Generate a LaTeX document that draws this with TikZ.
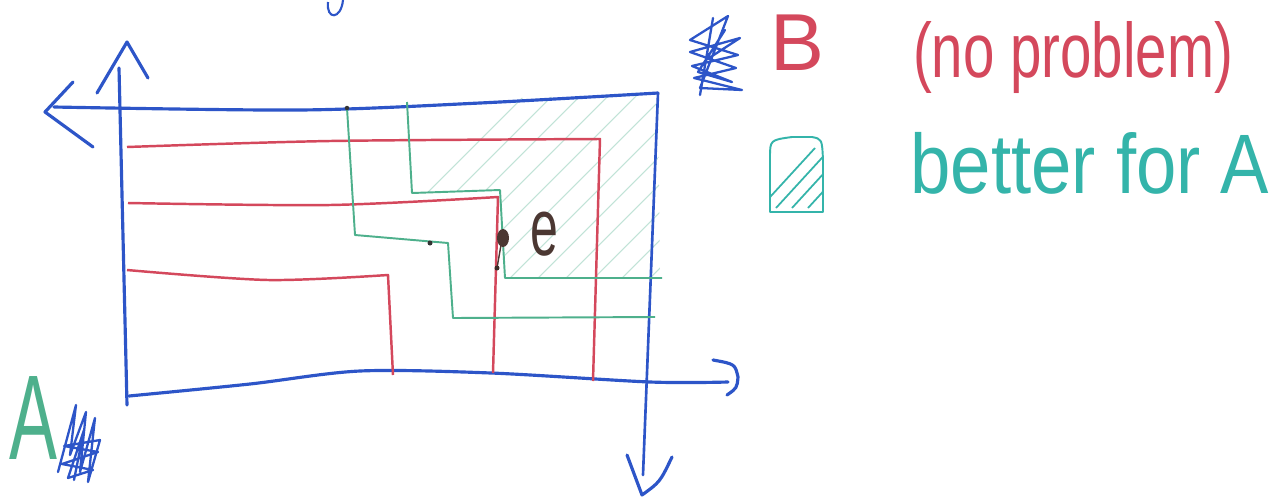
\documentclass[tikz,border=0pt]{standalone}
\usepackage{fontspec}
\setmainfont{Liberation Sans}
\usepackage{graphicx}
\usetikzlibrary{positioning}

\definecolor{penblue}{RGB}{45,85,200}
\definecolor{penred}{RGB}{212,72,92}
\definecolor{pengreen}{RGB}{78,176,140}
\definecolor{penteal}{RGB}{52,180,170}
\definecolor{penbrown}{RGB}{75,55,50}

\begin{document}
\begin{tikzpicture}[
    x=0.02cm, y=-0.02cm,
    axis/.style={penblue, line width=1.8pt, line cap=round, line join=round},
    curveB/.style={penred, line width=1.4pt, line join=round},
    curveA/.style={pengreen, line width=1.1pt, line join=round},
    hatch/.style={pengreen!35, line width=0.6pt},
    scribble/.style={penblue, line width=1.3pt, line join=round, line cap=round},
    handtext/.style={inner sep=0pt, font=\fontsize{44}{48}\selectfont}
  ]
    \useasboundingbox (0,0) rectangle (1282,498);
    \fill[white] (0,0) rectangle (1282,498);

    % Region better for A
    \begin{scope}
      \clip (407,102) -- (658,93) -- (660,278) -- (505,278) -- (500,190) -- (412,193) -- cycle;
      \foreach \k in {0,...,18}
        \draw[hatch] (300+\k*28,320) -- ++(240,-240);
    \end{scope}

    % Axes of A (origin bottom left)
    \coordinate (oA) at (127,398);
    \draw[axis] (oA) ++(0,7) -- (119,68);
    \draw[axis] (97,93) -- (127,42) -- (148,78);
    \draw[axis] plot[smooth] coordinates {(129,396) (250,384) (360,371) (491,373) (650,382) (728,382)};
    \draw[axis] (713,360) .. controls (735,364) .. (738,377) .. controls (737,388) .. (727,395);

    % Axes of B (origin top right)
    \coordinate (oB) at (658,93);
    \draw[axis] plot[smooth] coordinates {(54,107) (300,110) (480,103) (oB)};
    \draw[axis] (73,82) -- (45,112) -- (93,147);
    \draw[axis, line width=1.5pt] (oB) -- (643,475);
    \draw[axis] (627,455) -- (642,495) .. controls (660,482) .. (672,457);
    \draw[penblue, line width=1.2pt] (328,2) .. controls (326,20) and (341,20) .. (343,0);

    % Indifference curves of B
    \draw[curveB] plot[smooth] coordinates {(127,147) (330,141) (600,139)} -- (593,381);
    \draw[curveB] plot[smooth] coordinates {(128,203) (330,205) (498,197)} -- (493,373);
    \draw[curveB] plot[smooth] coordinates {(127,270) (268,280) (388,275)} -- (393,375);

    % Indifference curves of A
    \draw[curveA] (347,108) -- (355,235) -- (448,243) -- (453,318) -- (655,317);
    \draw[curveA] (407,102) -- (412,193) -- (500,190) -- (505,278) -- (662,278);
    \fill[black!80] (347,108) circle (0.045cm);
    \fill[black!80] (430,243) circle (0.05cm);

    % Endowment e
    \draw[penbrown, line width=0.8pt] (501,245) -- (497,268);
    \fill[penbrown!80!black] (497,268) circle (0.05cm);
    \fill[penbrown] (503,238) ellipse [x radius=0.12cm, y radius=0.18cm];
    \node (e) [handtext, text=penbrown, font=\fontsize{46}{50}\selectfont] at (544,234) {\scalebox{0.62}[1]{e}};

    % Legend
    \draw[scribble] plot coordinates {(700,95) (713,18) (706,60) (740,38) (690,52) (736,68) (694,78) (742,90) (700,88) (728,16) (690,40) (738,55) (692,66) (732,82) (698,72) (725,30)};
    \node (legB) [handtext, text=penred, font=\fontsize{46}{50}\selectfont] at (797,43) {B};
    \node (noprob) [handtext, text=penred] at (1073,58) {\scalebox{0.73}[1]{(no problem)}};

    \coordinate (legA) at (770,212);
    \draw[penteal, line width=1.1pt, line join=round] (legA) -- (770,158) .. controls (770,140) .. (792,137) -- (812,137) .. controls (822,139) .. (823,160) -- (823,212) -- cycle;
    \begin{scope}
      \clip (771,138) rectangle (822,211);
      \foreach \k in {0,...,3}
        \draw[penteal, line width=1pt] (760+\k*16,208) -- ++(55,-60);
    \end{scope}
    \node (better) [handtext, text=penteal, font=\fontsize{48}{52}\selectfont] at (1090,163) {\scalebox{0.86}[1]{better for A}};

    % Labels of the origins
    \node (labA) [handtext, text=pengreen, font=\fontsize{66}{70}\selectfont] at (33,418) {\scalebox{0.62}[1.04]{A}};
    \draw[scribble] plot coordinates {(58,472) (76,405) (70,455) (86,412) (80,472) (95,418) (88,482) (100,440) (64,446) (98,452) (62,464) (93,470) (68,478) (84,430) (74,480)};
\end{tikzpicture}
\end{document}
